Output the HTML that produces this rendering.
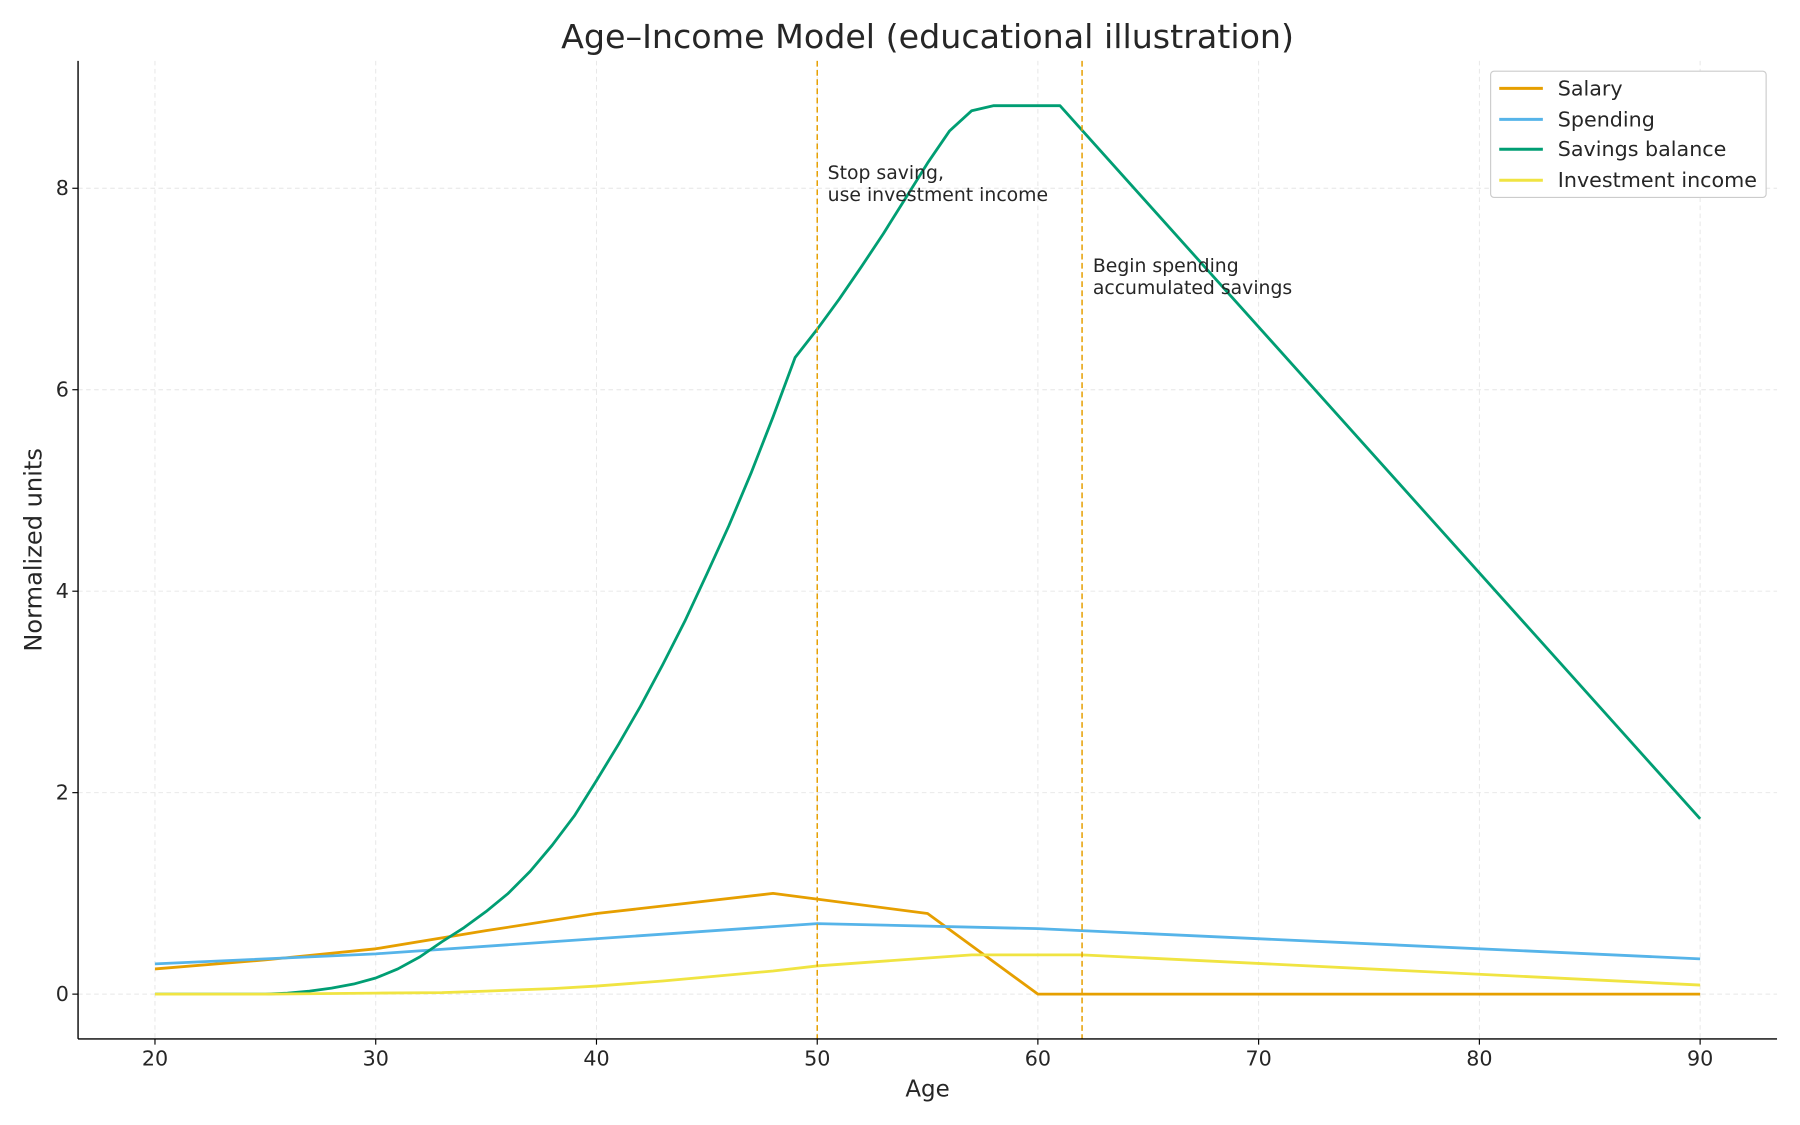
<!DOCTYPE html>
<html><head><meta charset="utf-8"><style>html,body{margin:0;padding:0;background:#fff}svg{display:block}text{font-family:"DejaVu Sans","Liberation Sans",sans-serif;fill:#262626}</style></head>
<body>
<svg width="1800" height="1125" viewBox="0 0 1568 980" preserveAspectRatio="none" xmlns="http://www.w3.org/2000/svg">
<rect width="1568" height="980" fill="#fff"/>
<g stroke="#e6e6e6" stroke-width="0.8" stroke-dasharray="4,3">
<line x1="135" y1="53" x2="135" y2="905"/><line x1="327.3" y1="53" x2="327.3" y2="905"/><line x1="519.6" y1="53" x2="519.6" y2="905"/><line x1="711.9" y1="53" x2="711.9" y2="905"/><line x1="904.1" y1="53" x2="904.1" y2="905"/><line x1="1096.4" y1="53" x2="1096.4" y2="905"/><line x1="1288.7" y1="53" x2="1288.7" y2="905"/><line x1="1481" y1="53" x2="1481" y2="905"/>
<line x1="68" y1="866" x2="1548" y2="866"/><line x1="68" y1="690.5" x2="1548" y2="690.5"/><line x1="68" y1="515" x2="1548" y2="515"/><line x1="68" y1="339.5" x2="1548" y2="339.5"/><line x1="68" y1="164" x2="1548" y2="164"/>
</g>
<g transform="translate(-249.57,866) scale(19.2286,-87.75)" fill="none" stroke-width="2.8" stroke-linejoin="round">
<polyline vector-effect="non-scaling-stroke" stroke="#e69f00" points="20,0.25 25,0.34 30,0.45 35,0.63 40,0.8 44,0.9 48,1.0 55,0.8 60,0 90,0"/>
<polyline vector-effect="non-scaling-stroke" stroke="#56b4e9" points="20,0.3 30,0.4 50,0.7 60,0.65 90,0.35"/>
<polyline vector-effect="non-scaling-stroke" stroke="#009e73" points="20,0 25,0 26,0.01 27,0.03 28,0.06 29,0.1 30,0.16 31,0.25 32,0.37 33,0.52 34,0.66 35,0.82 36,1.0 37,1.22 38,1.48 39,1.77 40,2.12 41,2.48 42,2.86 43,3.27 44,3.7 45,4.17 46,4.65 47,5.17 48,5.73 49,6.32 50,6.6 51,6.9 52,7.22 53,7.55 54,7.9 55,8.25 56,8.57 57,8.77 58,8.82 61,8.82 90,1.74"/>
<polyline vector-effect="non-scaling-stroke" stroke="#f0e442" points="20,0 25,0 30,0.01 33,0.015 35,0.03 38,0.055 40,0.08 43,0.13 45,0.17 48,0.23 50,0.28 57,0.39 62,0.39 90,0.09"/>
</g>
<g stroke="#e69f00" stroke-width="1.3" stroke-dasharray="5,3"><line x1="711.9" y1="53" x2="711.9" y2="905"/><line x1="942.6" y1="53" x2="942.6" y2="905"/></g>
<g stroke="#000" stroke-width="1.2"><line x1="68" y1="53" x2="68" y2="905"/><line x1="68" y1="905" x2="1548" y2="905"/></g>
<g stroke="#000" stroke-width="1"><line x1="135" y1="905" x2="135" y2="910"/><line x1="327.3" y1="905" x2="327.3" y2="910"/><line x1="519.6" y1="905" x2="519.6" y2="910"/><line x1="711.9" y1="905" x2="711.9" y2="910"/><line x1="904.1" y1="905" x2="904.1" y2="910"/><line x1="1096.4" y1="905" x2="1096.4" y2="910"/><line x1="1288.7" y1="905" x2="1288.7" y2="910"/><line x1="1481" y1="905" x2="1481" y2="910"/>
<line x1="63" y1="866" x2="68" y2="866"/><line x1="63" y1="690.5" x2="68" y2="690.5"/><line x1="63" y1="515" x2="68" y2="515"/><line x1="63" y1="339.5" x2="68" y2="339.5"/><line x1="63" y1="164" x2="68" y2="164"/></g>
<g font-size="18" text-anchor="middle"><text x="135" y="928">20</text><text x="327.3" y="928">30</text><text x="519.6" y="928">40</text><text x="711.9" y="928">50</text><text x="904.1" y="928">60</text><text x="1096.4" y="928">70</text><text x="1288.7" y="928">80</text><text x="1481" y="928">90</text></g>
<g font-size="18" text-anchor="end"><text x="60" y="872">0</text><text x="60" y="696.5">2</text><text x="60" y="521">4</text><text x="60" y="345.5">6</text><text x="60" y="170">8</text></g>
<text x="808" y="955" font-size="20" text-anchor="middle">Age</text>
<text transform="translate(36,479) rotate(-90)" font-size="21" text-anchor="middle">Normalized units</text>
<text x="808" y="42" font-size="29" text-anchor="middle">Age–Income Model (educational illustration)</text>
<g font-size="16.4"><text x="721" y="156">Stop saving,</text><text x="721" y="175">use investment income</text><text x="952" y="237">Begin spending</text><text x="952" y="256">accumulated savings</text></g>
<rect x="1298.5" y="62" width="240" height="110" rx="3" fill="#fff" stroke="#ccc"/>
<g stroke-width="2.6"><line x1="1306" y1="77" x2="1344" y2="77" stroke="#e69f00"/><line x1="1306" y1="104" x2="1344" y2="104" stroke="#56b4e9"/><line x1="1306" y1="130" x2="1344" y2="130" stroke="#009e73"/><line x1="1306" y1="157" x2="1344" y2="157" stroke="#f0e442"/></g>
<g font-size="18"><text x="1357" y="83">Salary</text><text x="1357" y="110">Spending</text><text x="1357" y="136">Savings balance</text><text x="1357" y="163">Investment income</text></g>
</svg>
</body></html>
